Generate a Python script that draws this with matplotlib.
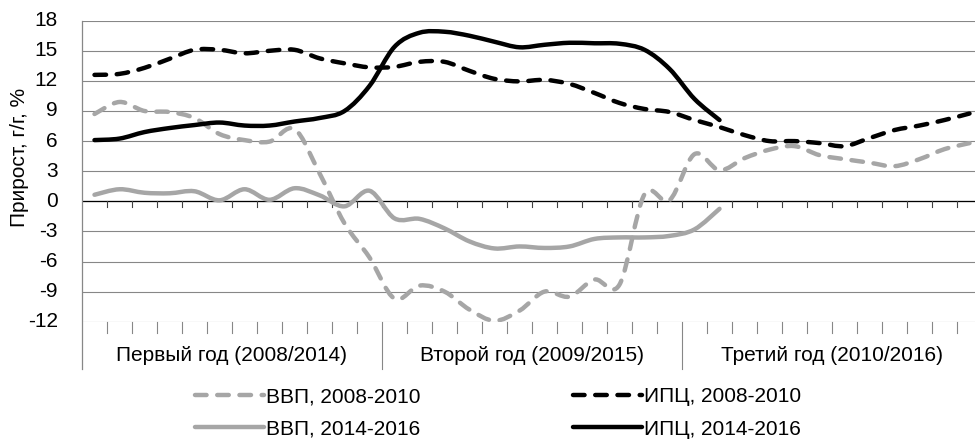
import numpy as np
import matplotlib
matplotlib.use("Agg")
import matplotlib.pyplot as plt
from matplotlib.path import Path
from matplotlib.patches import PathPatch
from matplotlib.lines import Line2D
import matplotlib.transforms as mtransforms

# ---------------- data ----------------
year_labels = ["Первый год (2008/2014)", "Второй год (2009/2015)", "Третий год (2010/2016)"]
months_per_year = 12

gdp_2008_2010 = [8.7, 9.9, 9.0, 8.9, 8.3, 6.7, 6.1, 5.95, 7.2, 2.8, -2.2, -5.6,
                 -9.7, -8.4, -9.0, -10.8, -11.9, -10.9, -9.0, -9.5, -7.8, -8.3, 0.7, 0.1,
                 4.7, 3.1, 4.3, 5.15, 5.5, 4.6, 4.2, 3.85, 3.5, 4.2, 5.2, 5.8]
cpi_2008_2010 = [12.6, 12.7, 13.3, 14.2, 15.1, 15.1, 14.75, 15.0, 15.1, 14.25, 13.75, 13.35,
                 13.4, 13.9, 13.9, 13.0, 12.2, 11.95, 12.1, 11.7, 10.8, 9.8, 9.2, 8.9,
                 8.1, 7.4, 6.6, 6.0, 6.0, 5.8, 5.5, 6.3, 7.1, 7.55, 8.1, 8.75]
gdp_2014_2016 = [0.65, 1.2, 0.85, 0.8, 1.0, 0.1, 1.2, 0.15, 1.3, 0.6, -0.5, 1.05,
                 -1.7, -1.75, -2.7, -4.0, -4.7, -4.5, -4.65, -4.5, -3.75, -3.6, -3.6, -3.45,
                 -2.8, -0.75]
cpi_2014_2016 = [6.1, 6.25, 6.9, 7.3, 7.6, 7.85, 7.55, 7.55, 7.95, 8.3, 9.0, 11.5,
                 15.4, 16.8, 16.9, 16.5, 15.9, 15.35, 15.6, 15.8, 15.75, 15.7, 15.1, 13.2,
                 10.2, 8.1]

series_labels = ["ВВП, 2008-2010", "ВВП, 2014-2016", "ИПЦ, 2008-2010", "ИПЦ, 2014-2016"]
y_ticks = [-12, -9, -6, -3, 0, 3, 6, 9, 12, 15, 18]
y_tick_labels = ["-12", "-9", "-6", "-3", "0", "3", "6", "9", "12", "15", "18"]
y_label = "Прирост, г/г, %"

# ---------------- style ----------------
plt.rcParams["font.family"] = ["Liberation Sans", "DejaVu Sans"]
FS = 15
GRAY = "#a6a6a6"
GRID = "#878787"
LW = 3.2
DASH = (0, (2.6, 2.4))

W, H = 975, 442
fig = plt.figure(figsize=(W / 100, H / 100), dpi=100)
ax_left, ax_right = 82, 982
ax_top, ax_bot = 20.7, 321.7
ax_w_px = ax_right - ax_left
ax = fig.add_axes([ax_left / W, 1 - ax_bot / H, ax_w_px / W, (ax_bot - ax_top) / H])

n_cat = months_per_year * len(year_labels)
ax.set_xlim(-0.5, n_cat - 0.5)
ax.set_ylim(y_ticks[0], y_ticks[-1])
for s in ax.spines.values():
    s.set_visible(False)

ax.set_yticks(y_ticks)
ax.tick_params(axis="y", length=0, labelleft=False)
ax.set_xticks([])
ax.yaxis.grid(True, color=GRID, lw=0.8)
ax.set_axisbelow(True)

# y tick labels, right-aligned ~24 px left of the axis
ylab_tr = mtransforms.blended_transform_factory(ax.transAxes, ax.transData)
for v, lab in zip(y_ticks, y_tick_labels):
    ax.text(-24 / ax_w_px, v, lab, transform=ylab_tr, ha="right", va="center", fontsize=FS)

# zero axis line
ax.axhline(0, color="black", lw=0.9, zorder=1.5)

blend = mtransforms.blended_transform_factory(ax.transData, ax.transAxes)
px = 1.0 / (ax_bot - ax_top)          # one pixel in axes fraction (vertical)
unit_per_px = (y_ticks[-1] - y_ticks[0]) / (ax_bot - ax_top)

# ticks on the zero line and on the bottom line
for k in range(1, n_cat + 1):
    xb = k - 0.5
    ax.plot([xb, xb], [0, -6 * unit_per_px], color="#404040", lw=0.8, clip_on=False, zorder=1.6)
    if k % months_per_year == 0:
        ax.plot([xb, xb], [0, -47 * px], transform=blend, color=GRID, lw=0.8, clip_on=False)
    else:
        ax.plot([xb, xb], [0, -11 * px], transform=blend, color=GRID, lw=0.8, clip_on=False)
# left axis line extending into label area
ax.plot([-0.5, -0.5], [1, -47 * px], transform=blend, color=GRID, lw=0.9, clip_on=False)

# category (year) labels
for j, lab in enumerate(year_labels):
    xc = j * months_per_year + (months_per_year - 1) / 2
    ax.text(xc, -33.5 * px, lab, transform=blend, ha="center", va="center", fontsize=FS)

fig.text(20 / W, 1 - 157 / H, y_label, rotation=90, ha="center", va="center", fontsize=FS)


# ---------------- smooth lines (Excel-like Bezier smoothing) ----------------
def smooth_path(vals):
    pts = np.column_stack([np.arange(len(vals), dtype=float), np.asarray(vals, dtype=float)])
    n = len(pts)
    verts = [pts[0]]
    codes = [Path.MOVETO]
    for i in range(n - 1):
        p0 = pts[i - 1] if i > 0 else pts[i]
        p1 = pts[i]
        p2 = pts[i + 1]
        p3 = pts[i + 2] if i + 2 < n else pts[i + 1]
        verts += [p1 + (p2 - p0) / 6.0, p2 - (p3 - p1) / 6.0, p2]
        codes += [Path.CURVE4] * 3
    return Path(verts, codes)


def draw(vals, color, ls, z):
    patch = PathPatch(smooth_path(vals), fill=False, edgecolor=color, lw=LW,
                      linestyle=ls, capstyle="round", joinstyle="round", zorder=z)
    ax.add_patch(patch)


draw(gdp_2014_2016, GRAY, "solid", 3)
draw(gdp_2008_2010, GRAY, DASH, 3.1)
draw(cpi_2008_2010, "black", DASH, 3.2)
draw(cpi_2014_2016, "black", "solid", 3.3)

handles = [
    Line2D([], [], color=GRAY, lw=LW, linestyle=DASH, dash_capstyle="round"),
    Line2D([], [], color=GRAY, lw=LW, solid_capstyle="round"),
    Line2D([], [], color="black", lw=LW, linestyle=DASH, dash_capstyle="round"),
    Line2D([], [], color="black", lw=LW, solid_capstyle="round"),
]
fig.legend(handles, series_labels, ncol=2, loc="center left",
           bbox_to_anchor=(195 / W, 1 - 413 / H), frameon=False, fontsize=FS,
           handlelength=3.3, handletextpad=0.12, columnspacing=7.3, labelspacing=0.65,
           borderaxespad=0, borderpad=0)

fig.savefig("out.png", dpi=100)
